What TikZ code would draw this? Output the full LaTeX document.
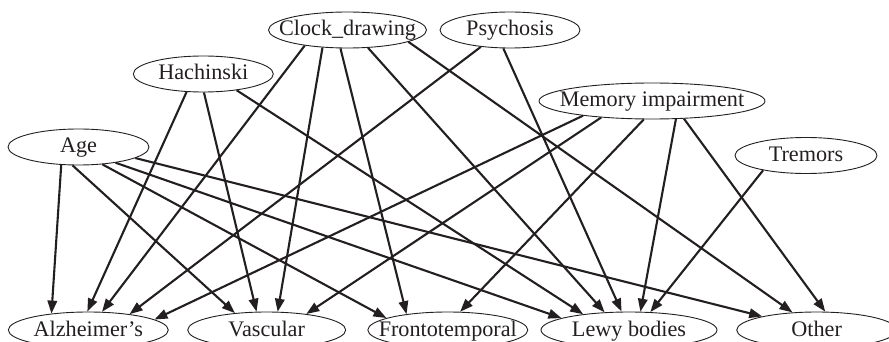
\documentclass[tikz,border=0pt]{standalone}
\usepackage{fontspec}
\setmainfont{Liberation Serif}
\usetikzlibrary{arrows.meta,shapes.geometric}
\definecolor{ink}{HTML}{231F20}
\newcommand{\lbl}[1]{\makebox[0pt]{#1}}
\begin{document}
\begin{tikzpicture}[x=1pt,y=-1pt,
  nd/.style={draw=ink, ellipse, line width=0.9pt, inner sep=0pt, minimum height=36pt,
    text height=16pt, text depth=4pt, font=\fontsize{22.2}{26}\selectfont, text=ink},
  ed/.style={draw=ink, line width=2.1pt, -{Triangle[length=13pt,width=9.5pt]}}]
\clip (0,0) rectangle (889,342);
% parents
\node[nd, minimum width=158pt] (clock) at (347.5,30) {\lbl{Clock\_drawing}};
\node[nd, minimum width=140pt] (psych) at (510,30) {\lbl{Psychosis}};
\node[nd, minimum width=140pt] (hach) at (203.3,74) {\lbl{Hachinski}};
\node[nd, minimum width=226pt] (mem) at (652,101) {\lbl{Memory impairment}};
\node[nd, minimum width=141pt] (age) at (78.5,147) {\lbl{Age}};
\node[nd, minimum width=142pt] (trem) at (806,155.5) {\lbl{Tremors}};
% outcomes
\node[nd, minimum width=160pt] (alz) at (88.3,330) {\lbl{Alzheimer’s}};
\node[nd, minimum width=158pt] (vasc) at (266.7,330) {\lbl{Vascular}};
\node[nd, minimum width=160pt] (fronto) at (447.8,330) {\lbl{Frontotemporal}};
\node[nd, minimum width=176pt] (lewy) at (629,330) {\lbl{Lewy bodies}};
\node[nd, minimum width=160pt] (other) at (816.7,330) {\lbl{Other}};
% edges
\draw[ed] (age.226) -- (alz.156);
\draw[ed] (age.252) -- (vasc.152);
\draw[ed] (age.324) -- (fronto.169);
\draw[ed] (age.337) -- (lewy.170);
\draw[ed] (age.349) -- (other.166);
\draw[ed] (hach.227) -- (alz.93);
\draw[ed] (hach.272) -- (vasc.119);
\draw[ed] (hach.334) -- (lewy.161);
\draw[ed] (clock.200) -- (alz.53);
\draw[ed] (clock.215) -- (vasc.59);
\draw[ed] (clock.249) -- (fronto.159);
\draw[ed] (clock.319) -- (lewy.144);
\draw[ed] (clock.349) -- (other.144);
\draw[ed] (psych.210) -- (alz.21);
\draw[ed] (psych.250) -- (lewy.112);
\draw[ed] (mem.192) -- (alz.9);
\draw[ed] (mem.198) -- (vasc.22);
\draw[ed] (mem.246) -- (fronto.56);
\draw[ed] (mem.323) -- (lewy.58);
\draw[ed] (mem.331) -- (other.65);
\draw[ed] (trem.199) -- (lewy.40);
\end{tikzpicture}
\end{document}
